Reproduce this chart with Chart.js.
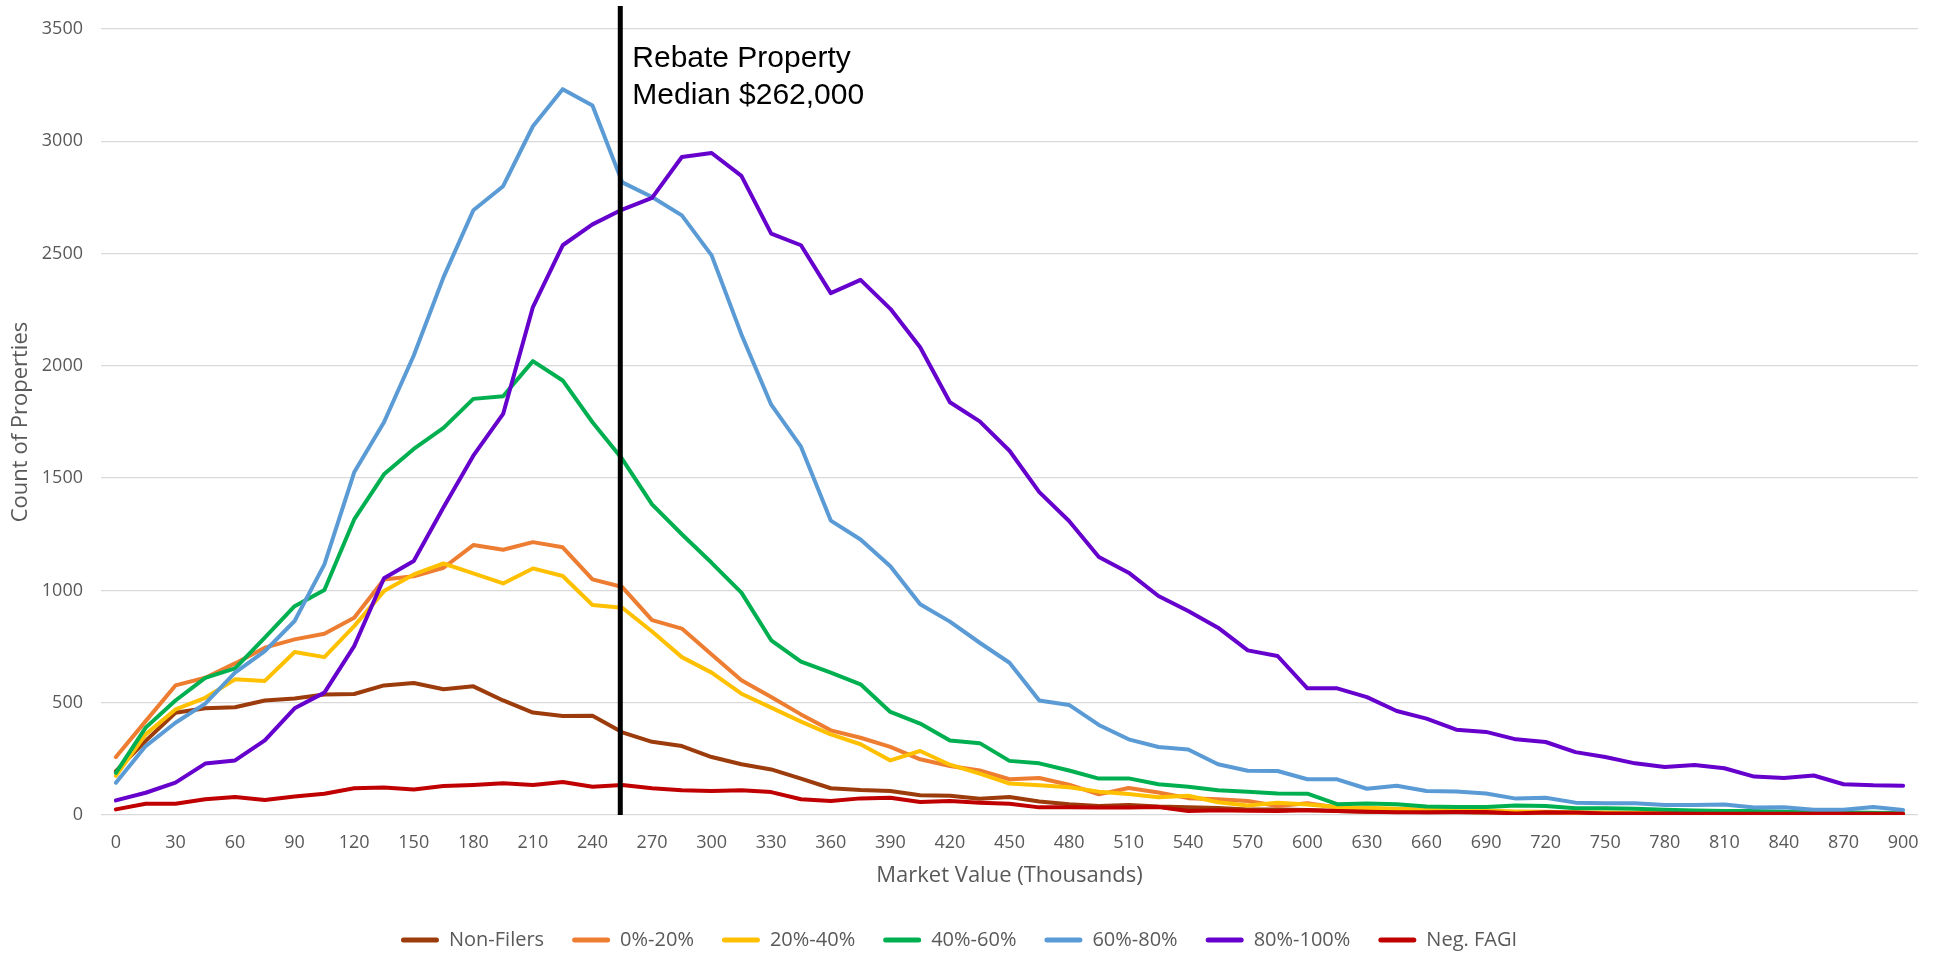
<!DOCTYPE html>
<html>
<head>
<meta charset="utf-8">
<title>Market Value Distribution</title>
<script src="https://cdn.jsdelivr.net/npm/chart.js@4.4.1/dist/chart.umd.min.js"></script>
<style>
    html, body { margin: 0; padding: 0; background: #ffffff; }
    #wrap { width: 1946px; height: 953px; }
</style>
</head>
<body>
<div id="wrap"><canvas id="chart" width="1946" height="953"></canvas></div>
<script>
// Market value buckets (thousands)
const marketValues = [0, 15, 30, 45, 60, 75, 90, 105, 120, 135, 150, 165, 180, 195, 210, 225, 240, 255,
    270, 285, 300, 315, 330, 345, 360, 375, 390, 405, 420, 435, 450, 465, 480, 495, 510, 525, 540, 555,
    570, 585, 600, 615, 630, 645, 660, 675, 690, 705, 720, 735, 750, 765, 780, 795, 810, 825, 840, 855,
    870, 885, 900];

// Counts of properties per series
const nonFilers = [195, 330, 455, 475, 480, 510, 519, 537, 539, 577, 588, 560, 573, 510, 456, 441, 442, 368,
    326, 307, 258, 226, 203, 162, 119, 111, 107, 88, 86, 72, 80, 60, 48, 40, 45, 38, 34, 31,
    25, 25, 22, 18, 15, 14, 12, 12, 10, 10, 9, 8, 8, 7, 7, 6, 6, 5, 5, 5, 4, 4, 4];
const pct0to20 = [258, 418, 577, 611, 675, 745, 782, 807, 878, 1049, 1063, 1101, 1202, 1181, 1215, 1192, 1049, 1015,
    868, 830, 715, 600, 525, 448, 377, 344, 303, 248, 218, 198, 159, 165, 135, 92, 120, 100, 75, 70,
    62, 40, 52, 33, 25, 20, 18, 15, 12, 12, 10, 9, 8, 8, 7, 6, 6, 5, 5, 5, 4, 4, 3];
const pct20to40 = [174, 359, 470, 522, 604, 597, 726, 703, 841, 997, 1071, 1120, 1076, 1031, 1098, 1064, 935, 923,
    817, 703, 634, 540, 478, 416, 359, 315, 243, 285, 224, 184, 140, 133, 124, 104, 94, 79, 86, 57,
    42, 55, 47, 36, 32, 28, 24, 22, 20, 16, 14, 12, 11, 10, 9, 8, 7, 7, 6, 6, 5, 5, 4];
const pct40to60 = [188, 389, 510, 611, 653, 790, 930, 1002, 1316, 1517, 1630, 1724, 1853, 1865, 2021, 1935, 1749, 1585,
    1383, 1250, 1123, 990, 778, 683, 634, 582, 459, 407, 332, 320, 241, 230, 198, 162, 163, 137, 126, 110,
    103, 96, 95, 48, 51, 48, 38, 36, 36, 42, 40, 30, 30, 28, 23, 20, 18, 18, 15, 12, 11, 10, 8];
const pct60to80 = [144, 307, 411, 496, 634, 730, 864, 1116, 1526, 1749, 2046, 2395, 2693, 2800, 3067, 3232, 3159, 2817,
    2752, 2670, 2492, 2140, 1827, 1640, 1311, 1227, 1108, 938, 861, 767, 678, 510, 490, 401, 337, 303, 292, 226,
    197, 196, 159, 159, 117, 130, 107, 105, 96, 73, 77, 55, 52, 52, 45, 45, 47, 33, 35, 23, 23, 36, 22];
const pct80to100 = [65, 99, 144, 229, 243, 332, 475, 545, 752, 1054, 1131, 1370, 1600, 1786, 2262, 2537, 2630, 2696,
    2748, 2930, 2948, 2846, 2589, 2537, 2324, 2383, 2254, 2083, 1838, 1753, 1622, 1438, 1309, 1149, 1079, 975, 908, 834,
    733, 708, 564, 564, 525, 463, 429, 380, 370, 337, 325, 280, 258, 230, 214, 223, 208, 171, 165, 176, 137, 132, 130];
const negFagi = [25, 50, 50, 70, 80, 67, 82, 95, 119, 122, 114, 129, 134, 141, 134, 147, 126, 134,
    119, 110, 107, 110, 102, 70, 62, 74, 77, 58, 62, 55, 50, 34, 34, 33, 33, 36, 18, 21,
    19, 18, 21, 18, 15, 12, 12, 13, 13, 7, 12, 11, 7, 7, 7, 6, 6, 6, 6, 6, 6, 6, 6];

const seriesNames = ["Non-Filers", "0%-20%", "20%-40%", "40%-60%", "60%-80%", "80%-100%", "Neg. FAGI"];
const seriesColors = ["#9C3B0C", "#ED7D31", "#FFC000", "#00B050", "#5B9BD5", "#6600CC", "#C00000"];
const seriesData = [nonFilers, pct0to20, pct20to40, pct40to60, pct60to80, pct80to100, negFagi];

// Reference line (thousands) and its note
const medianLineAt = 254;
const medianNote = ["Rebate Property", "Median $262,000"];

const axisFont = "'Open Sans', sans-serif";
const axisColor = "#595959";

// Vertical median marker with label
const medianLinePlugin = {
    id: "medianLine",
    afterDatasetsDraw(chart) {
        const { ctx, chartArea, scales } = chart;
        const step = marketValues[1] - marketValues[0];
        const x = scales.x.getPixelForValue(medianLineAt / step);

        ctx.save();
        ctx.strokeStyle = "#000000";
        ctx.lineWidth = 5;
        ctx.beginPath();
        ctx.moveTo(x, 6);
        ctx.lineTo(x, chartArea.bottom);
        ctx.stroke();

        ctx.fillStyle = "#000000";
        ctx.font = "30px 'Liberation Sans', Arial, sans-serif";
        ctx.textAlign = "left";
        ctx.textBaseline = "alphabetic";
        ctx.fillText(medianNote[0], x + 12, 67);
        ctx.fillText(medianNote[1], x + 12, 104);
        ctx.restore();
    }
};

const ctx = document.getElementById("chart").getContext("2d");

new Chart(ctx, {
    type: "line",
    data: {
        labels: marketValues,
        datasets: seriesNames.map((name, i) => ({
            label: name,
            data: seriesData[i],
            borderColor: seriesColors[i],
            backgroundColor: seriesColors[i],
            borderWidth: 4,
            borderCapStyle: "round",
            borderJoinStyle: "round",
            pointRadius: 0,
            tension: 0,
            fill: false,
            order: seriesNames.length - i
        }))
    },
    options: {
        responsive: false,
        animation: false,
        devicePixelRatio: 1,
        layout: {
            padding: { top: 29, right: 28, bottom: -7, left: 0 }
        },
        plugins: {
            tooltip: { enabled: false },
            legend: {
                position: "bottom",
                labels: {
                    font: { family: axisFont, size: 20 },
                    color: axisColor,
                    boxWidth: 38,
                    boxHeight: 5,
                    padding: 28,
                    generateLabels(chart) {
                        return chart.data.datasets.map((ds, i) => ({
                            text: ds.label,
                            fillStyle: ds.borderColor,
                            strokeStyle: ds.borderColor,
                            lineWidth: 0,
                            borderRadius: 2.5,
                            fontColor: axisColor,
                            hidden: false,
                            datasetIndex: i
                        }));
                    }
                }
            }
        },
        scales: {
            x: {
                offset: true,
                grid: { display: false, drawTicks: false },
                border: { display: false },
                ticks: {
                    autoSkip: false,
                    maxRotation: 0,
                    padding: 17,
                    color: axisColor,
                    font: { family: axisFont, size: 18 },
                    callback(value, index) {
                        return index % 2 === 0 ? this.getLabelForValue(value) : "";
                    }
                },
                title: {
                    display: true,
                    text: "Market Value (Thousands)",
                    color: axisColor,
                    font: { family: axisFont, size: 22 },
                    padding: { top: 0, bottom: 13 }
                },
                afterFit(scale) { scale.height = 87; }
            },
            y: {
                min: 0,
                max: 3500,
                grid: { color: "#d9d9d9", lineWidth: 1.3, drawTicks: false },
                border: { display: false },
                ticks: {
                    stepSize: 500,
                    padding: 18,
                    color: axisColor,
                    font: { family: axisFont, size: 18 },
                    callback: (value) => String(value)
                },
                title: {
                    display: true,
                    text: "Count of Properties",
                    color: axisColor,
                    font: { family: axisFont, size: 22 },
                    padding: { top: 8, bottom: 0 }
                },
                afterFit(scale) { scale.width = 101; }
            }
        }
    },
    plugins: [medianLinePlugin]
});
</script>
</body>
</html>
